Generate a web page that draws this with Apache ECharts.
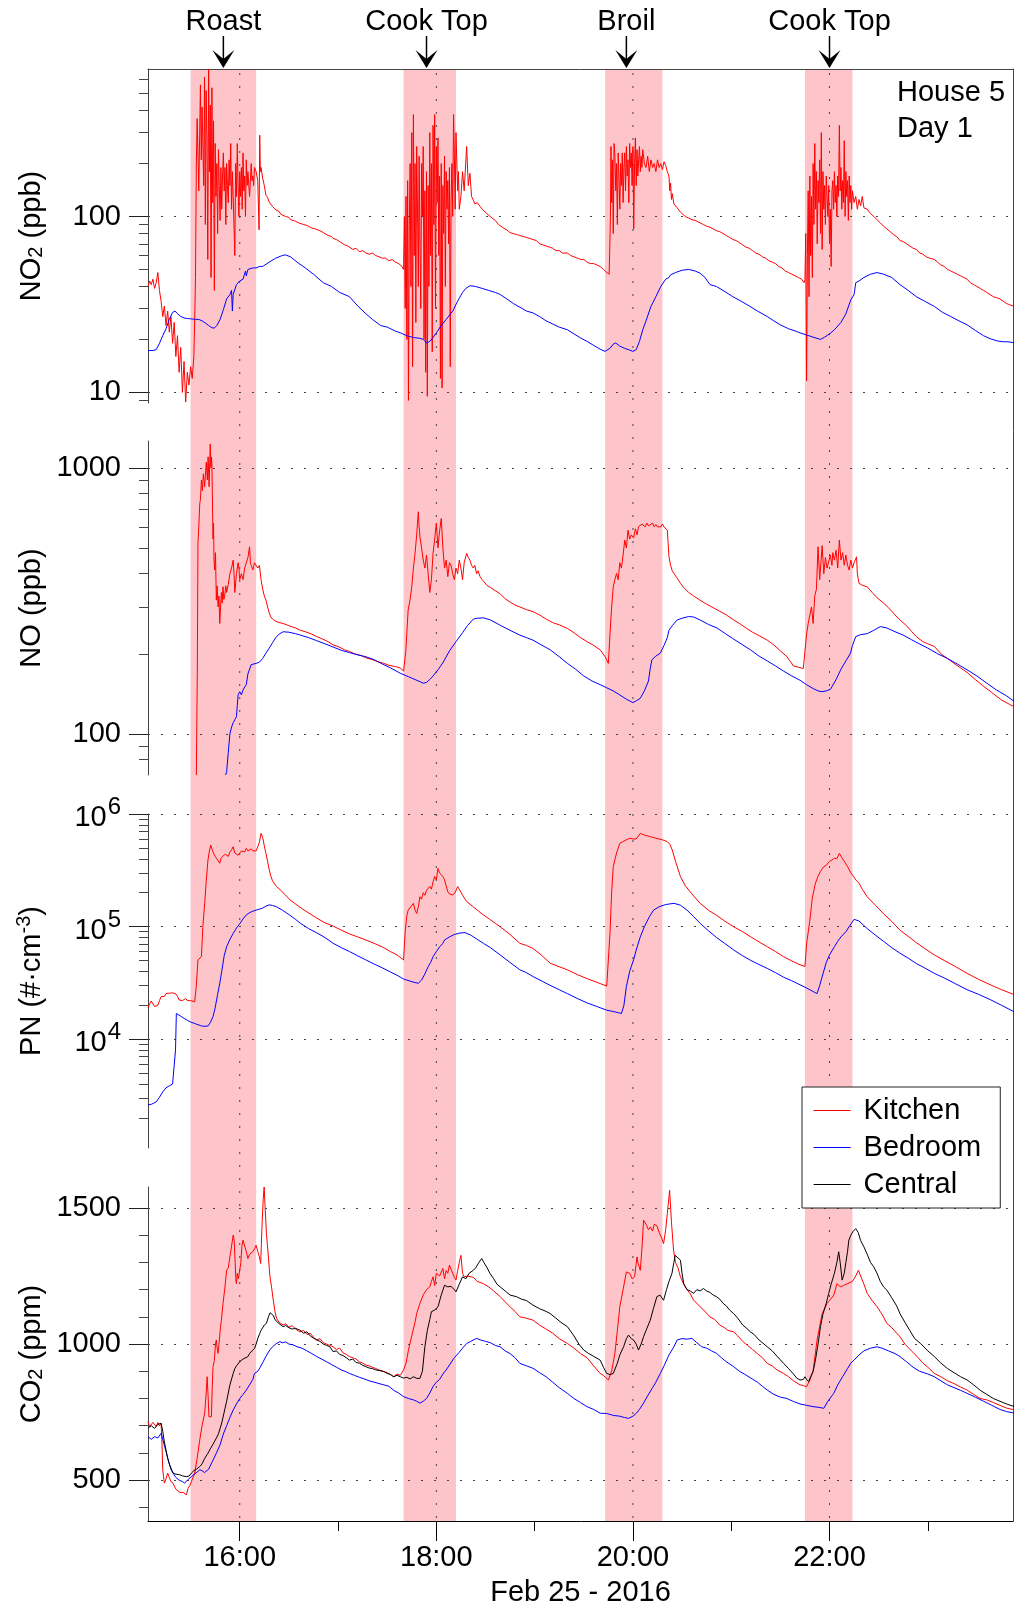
<!DOCTYPE html>
<html><head><meta charset="utf-8">
<script src="https://cdn.jsdelivr.net/npm/echarts@6/dist/echarts.min.js"></script>
<style>html,body{margin:0;padding:0;background:#fff}#c{width:1014px;height:1610px}</style>
</head><body><div id="c"></div>
<script>
// x values: minutes after 15:00 on Feb 25 2016
const timeRange = [4, 532];
const hourTicks = [60, 180, 300, 420];      // 16:00 18:00 20:00 22:00
const oddHourTicks = [120, 240, 360, 480];  // 17:00 19:00 21:00 23:00
const cookingBands = [[30, 70], [160, 192], [283, 318], [405, 434]];
const eventTimes = [50, 174, 296, 420];
const eventLabels = ['Roast', 'Cook Top', 'Broil', 'Cook Top'];
const seriesNames = ['Kitchen', 'Bedroom', 'Central'];

const no2Kitchen = [[4,40],[5,43],[6,41],[7,44],[8,39],[9,42],[10,48],[11,38],[12,33],[13,27],[14,31],[15,24],[16,29],[17,22],[18,27],[19,19],[20,25],[21,16],[22,21],[23,13],[24,18],[25,10],[26,15],[27,8.8],[28,13],[29,11],[30,14],[31,12],[32,16],[32.5,26],[33,45],[33.5,200],[34,360],[35,140],[36,560],[36.5,210],[37,420],[38,150],[38.5,620],[39,90],[39.5,520],[40,280],[40.5,57],[41,690],[41.5,180],[42,430],[42.5,45],[43,540],[43.5,120],[44,350],[44.5,38],[45,260],[45.5,130],[46,200],[46.5,80],[47,240],[47.5,150],[48,95],[48.5,190],[49,110],[49.5,170],[50,230],[50.5,140],[51,190],[51.5,90],[52,200],[52.5,150],[53,120],[53.5,210],[54,150],[54.5,260],[55,110],[55.5,180],[56,130],[57,60],[57.5,200],[58,130],[58.5,260],[59,150],[59.5,100],[60,180],[60.5,130],[61,190],[61.5,110],[62,230],[62.5,140],[63,170],[63.5,100],[64,210],[64.5,150],[65,180],[66,130],[67,200],[67.5,160],[68,170],[68.5,150],[69,190],[70,180],[71,160],[71.8,84],[72.2,290],[72.6,180],[73,190],[74,165],[75,150],[76,132],[77,128],[78,121],[79,118],[80,114],[81,116],[82,109],[84,107],[85,103],[86,105],[88,100],[90,99],[91,96],[92,97],[94,94],[96,92],[97,93],[99,90],[101,89],[102,91],[104,86],[106,85],[107,86],[109,83],[111,81],[112,83],[114,78],[116,77],[117,75],[119,74],[121,72],[122,73],[124,69],[126,68],[127,67],[129,65],[131,66],[133,63],[135,64],[137,62],[139,61],[141,62],[143,60],[145,59],[147,58],[149,58],[151,56],[153,57],[155,55],[157,54],[158,55],[159,52],[160,50],[160.5,100],[161,30],[161.5,130],[162,20],[162.5,160],[163,9],[163.5,90],[164,200],[164.5,40],[165,300],[165.5,14],[166,380],[166.5,60],[167,200],[167.5,25],[168,250],[168.5,110],[169,40],[169.5,220],[170,70],[170.5,30],[171,200],[171.5,100],[172,250],[172.5,20],[173,140],[173.5,13],[174,180],[174.5,9.5],[175,150],[175.5,40],[176,300],[176.5,60],[177,200],[177.5,17],[178,330],[178.5,90],[179,380],[179.5,30],[180,250],[180.5,120],[181,280],[181.5,60],[182,170],[182.5,12],[183,200],[183.5,10.6],[184,150],[184.5,80],[185,220],[185.5,40],[186,180],[186.5,110],[187,160],[187.5,70],[188,190],[188.5,14],[189,120],[189.5,200],[190,100],[190.5,380],[191,230],[191.5,110],[192,300],[193,140],[193.5,180],[194,110],[195,130],[196,180],[197,140],[198.5,250],[199.5,150],[200.5,176],[201.5,130],[202.6,124],[203.5,118],[205,120],[206.7,114],[208,110],[209,112],[210.8,104],[212,102],[214,98],[216,95],[218,90],[219,88],[221,86],[223,84],[225,81],[227,80],[229,79],[231,78],[233,77],[235,76],[237,75],[239,74],[241,73],[243,70],[245,69],[247,68],[249,67],[251,66],[253,64],[255,64],[257,62],[260,62],[262,60],[264,59],[266,58],[268,57],[270,57],[272,55],[274,54],[276,54],[278,53],[280,52],[282,50],[284,48],[285.5,47],[286,47],[286.3,100],[286.6,250],[287,120],[287.5,210],[288,80],[288.5,260],[289,220],[289.5,140],[290,200],[290.5,90],[291,230],[291.5,170],[292,110],[292.5,200],[293,150],[293.5,230],[294,120],[294.5,190],[295,230],[295.5,140],[296,250],[296.5,170],[297,210],[297.5,120],[298,260],[298.5,190],[299,230],[299.5,150],[300,250],[300.5,85],[301,200],[301.5,280],[302,150],[302.5,240],[303,170],[303.5,210],[304,250],[304.5,180],[305,220],[305.5,190],[306,240],[307,200],[308,190],[309,220],[310,180],[311,210],[312,190],[313,200],[314,180],[315,210],[316,190],[317,200],[318,185],[319,205],[320,195],[321,180],[322,170],[322.5,140],[323,155],[323.5,125],[324,135],[325,118],[326,115],[327,112],[328,110],[329,106],[330,104],[332,100],[334,98],[336,96],[338,95],[341,92],[343,90],[345,88],[347,87],[349,85],[351,83],[353,82],[355,80],[357,78],[359,76],[361,74],[363,73],[365,71],[367,69],[369,67],[371,66],[373,64],[375,62],[377,61],[379,59],[381,58],[383,56],[385,55],[387,54],[389,52],[391,51],[393,49],[395,48],[397,47],[399,46],[401,45],[403,44],[404.5,42],[405,44],[405.5,80],[406,11.6],[406.5,60],[407,140],[407.5,35],[408,170],[408.5,60],[409,130],[409.5,45],[410,200],[410.5,90],[411,260],[411.5,110],[412,180],[412.5,70],[413,160],[413.5,120],[414,210],[414.5,80],[415,300],[415.5,65],[416,180],[416.5,110],[417,150],[417.5,90],[418,170],[418.5,130],[419,100],[419.5,150],[420,70],[420.5,110],[421,52],[421.5,140],[422,160],[422.5,110],[423,180],[423.5,120],[424,150],[424.5,100],[425,170],[425.5,130],[426,330],[426.5,140],[427,190],[427.5,110],[428,160],[428.5,120],[429,270],[429.5,100],[430,180],[430.5,130],[431,160],[431.5,95],[432,170],[432.5,120],[433,150],[433.5,110],[434,140],[435,120],[436,130],[437,110],[438,125],[439,115],[440,130],[441,112],[443,110],[445,104],[447,100],[449,96],[451,92],[453,88],[455,85],[457,82],[459,79],[461,77],[463,73],[465,72],[467,70],[469,68],[471,66],[473,65],[475,62],[477,61],[479,59],[481,58],[484,57],[486,55],[488,53],[490,52],[492,50],[494,49],[496,48],[498,47],[500,46],[502,45],[504,44],[506,42],[508,41],[510,40],[512,39],[514,38],[516,37],[518,36],[520,35],[522,34.5],[524,34],[526,33],[528,32],[530,31.5],[532,31]];

const no2Bedroom = [[4,17.3],[7,17.3],[9,17.5],[11,19],[13,21],[15,23],[17,26],[19,28.5],[20.5,29],[22,28],[24,27],[26,26.5],[28,26.3],[30,26.2],[33,26],[35,26],[37,25.5],[39,24.8],[41,24],[43,23.3],[44.5,23.2],[46,24],[48,26],[50,29.5],[52,34],[54,36],[55,38],[55.5,29],[56,36],[58,41],[60,43],[62,44],[63,45],[63.5,49],[64,46],[65,50],[66,51],[68,51],[70,51],[72,52],[74,52],[78,55],[82,58],[86,60],[88,60.5],[91,59],[95,55],[100,51],[105,47],[111,42],[116,40],[121,37],[127,35],[132,31],[137,28],[141,26],[146,24],[150,23.5],[155,22.3],[158,21.8],[162,21],[166,20.5],[170,20.3],[172,20],[174,19.1],[176,19.5],[178,20.5],[180,21.8],[183,24],[186,26],[190,29],[193,33],[196,37],[198,39],[200.5,40.4],[204,40],[208,39],[212,38],[216,37],[219,36],[223,34],[227,32],[231,30.5],[235,29],[239,28.3],[243,27],[247,25.5],[251,24.5],[255,23.5],[260,22.7],[264,21.5],[268,20.4],[272,19.5],[276,18.5],[280,17.6],[283,17.1],[286,17.8],[288,18.8],[289.5,19.1],[292,18.3],[295,17.8],[298,17.4],[300,17.1],[302,17.5],[304,19.5],[306,22.7],[308,25.5],[311,30.8],[314,35],[317,40],[320,44],[322,45],[323,46.6],[326,48],[330,49.5],[334,50],[338,49],[341,47.6],[344,45],[347,41],[351,40],[355,38],[361,35],[366,33],[371,31],[376,29],[382,27],[386,25.5],[390,24.2],[395,23],[400,22.2],[402,21.8],[406,21.2],[410,20.6],[414.5,20],[417,20.6],[420,21.5],[423,22.7],[427,25],[430,28],[433,33.6],[435,36],[436,42],[438,43],[441,45],[445,47],[449,48],[453,47],[458,45],[463,41],[468,38],[473,35],[478,33],[484,30.8],[489,28.5],[494,27],[499,25.5],[504,24.2],[509,22.5],[514,21],[518,20.2],[522.5,19.6],[526,19.4],[529,19.4],[533,19.1]];

const noKitchen = [[33.5,70],[33.8,110],[34.1,170],[34.5,520],[35,600],[35.6,735],[36,760],[36.6,900],[37.2,820],[37.8,950],[38.6,850],[39.2,980],[39.6,1050],[40.2,900],[40.7,1100],[41.3,850],[41.7,1050],[42,1230],[42.4,1000],[42.7,1100],[43,1040],[43.4,700],[43.7,540],[44,620],[44.3,450],[44.7,413],[45.2,480],[45.7,318],[46.2,360],[46.8,300],[47.3,330],[47.8,260],[48.3,300],[48.8,340],[49.3,310],[49.8,357],[50.3,320],[50.8,330],[51.5,360],[52,340],[53,365],[54,400],[55,420],[56,450],[56.5,400],[57,340],[58,400],[59,440],[59.5,420],[60,380],[61,400],[62,380],[63,420],[64,420],[65,460],[66,505],[66.5,440],[67,430],[68,413],[69,440],[70,440],[71,420],[72,430],[73,380],[74,350],[75,330],[76,318],[77,300],[78,285],[79,275],[80,270],[82,265],[84,262],[86.5,260],[90,255],[94,250],[97,245],[100,242],[104,237],[107,232],[110,228],[114,222],[117,216],[120,213],[124,207],[127,204],[130,200],[134,197],[137,193],[141,190],[144,187],[148,184],[151,181],[155,179],[158,177],[160,172],[161.4,206],[162,240],[162.8,292],[164,320],[165,357],[166,420],[167,477],[168,560],[169,684],[169.5,600],[170,551],[171,500],[172,450],[173,420],[174,470],[175,400],[176,340],[177,380],[178,477],[179,540],[180,620],[181,500],[182,580],[183,645],[184,500],[185,420],[186,450],[187,390],[188,440],[189,430],[190,400],[191,380],[192,420],[193,400],[194,450],[195,420],[196,380],[197,440],[198.5,477],[199.5,460],[200.5,450],[201.5,430],[202.6,420],[203.5,430],[204.6,400],[205.5,410],[206.7,390],[208,380],[209,385],[210.8,362],[213,355],[216,345],[219,336],[222,322],[225,313],[228,305],[231,300],[235,293],[239,288],[243,280],[247,270],[251,262],[255,257],[260,249],[264,240],[268,230],[272,222],[276,215],[280,207],[283,195],[285,184],[286,237],[287,300],[288,357],[289,380],[290,401],[291,380],[292,440],[293,420],[294,470],[295,535],[296,500],[297,583],[298,540],[299,560],[300.4,545],[301.5,590],[302.5,560],[303.4,600],[304.5,590],[305.5,615],[306.5,610],[307.5,600],[308.5,620],[309.5,605],[310.6,610],[312,620],[313,600],[314,612],[315,600],[316,605],[317,600],[318,615],[319,600],[320,595],[321,583],[321.5,520],[322,463],[323,430],[324,410],[325,401],[327,385],[329,368],[331,355],[334,340],[337,330],[341,318],[345,307],[349,298],[353,289],[357,280],[361.5,268],[365,260],[369,250],[373,241],[377,234],[382,225],[386,216],[390,205],[394,195],[398,180],[401,178],[404,176],[405,174],[406,237],[407,260],[408,280],[409,300],[410,260],[411,330],[412,350],[413,505],[414,380],[415.5,510],[416.5,400],[417.5,460],[418.5,420],[419.5,420],[420.5,470],[421.5,430],[422,480],[423,450],[424,490],[425,420],[426,535],[427,450],[428,480],[429,430],[430,470],[431,430],[432,413],[433,450],[434,420],[435,440],[436.5,463],[437,400],[438,368],[440,362],[443,357],[446,340],[449,325],[453,310],[456,298],[460,280],[463,268],[467,255],[470,243],[473,232],[477,222],[480,218],[484,213],[488,200],[492,192],[496,184],[500,177],[504,170],[509,160],[514,151],[519,143],[525,134],[529,130],[533,126]];

const noBedroom = [[51.4,70],[52,72],[52.3,73],[53,85],[54,100],[55,106],[56,110],[57,113],[58,116],[58.5,128],[59,140],[60,144],[61,140],[62,146],[63,150],[64,153],[65,168],[66,175],[67,182],[68,183],[70,184],[72,186],[74,192],[76,201],[78,210],[80,220],[82,230],[84,237],[86.5,242],[90,241],[94,238],[97,235],[102,230],[107,224],[112,218],[117,212],[122,206],[127,202],[132,198],[137,195],[142,190],[147,183],[152,177],[158,169],[163,164],[167,160],[170,157],[172,155],[174,156],[176,160],[178,165],[181,174],[184,185],[188,205],[192,222],[196,240],[199,255],[202.6,270],[205,272],[208.7,273],[213,268],[219,256],[225,245],[231,235],[235,230],[239,225],[244,216],[249.5,207],[255,195],[260,184],[265,175],[270,165],[275,158],[280,153],[284,149],[288,145],[292,140],[296,135],[300,131],[302,133],[304.5,136],[307,145],[309.5,158],[310.5,175],[311.6,190],[314,196],[316.7,201],[319,215],[321,230],[322,245],[324,255],[327,268],[330,272],[334,276],[337,275],[341,268],[346,258],[351.3,250],[356,239],[361,228],[366,218],[371.7,207],[377,196],[382,188],[387,180],[392,172],[397,165],[402,159],[406,153],[410,148],[413,145],[415.5,144],[418,145],[420.6,147],[424,160],[427,175],[430,188],[432.8,201],[434,215],[436,232],[439,236],[443,238],[447,245],[451,253],[455,250],[460,242],[465,235],[470,226],[473.5,220],[480,210],[486,200],[492,192],[498,183],[504,174],[510,165],[516,155],[522,146],[528,139],[533,132]];

const pnKitchen = [[4,19000],[5,20500],[6,21800],[7,21500],[8,19500],[9,19500],[10,20000],[11,22000],[12,23800],[13,24500],[14,24000],[15,25400],[16,25000],[17,25600],[18,25000],[19,25800],[20,25400],[21,25200],[22,24000],[23,22300],[24,22800],[25,22000],[26,22500],[27,23000],[28,22000],[29,22500],[30,22000],[31,21800],[32.5,21500],[33.5,30000],[34.5,50600],[35.5,51000],[36.6,54000],[37.5,100000],[38.6,161000],[39.5,250000],[40.6,390000],[41.5,470000],[42.3,530000],[43,490000],[44,450000],[45,420000],[45.7,405000],[46.5,390000],[47.8,365000],[48.5,400000],[49.5,420000],[50.5,410000],[51.2,440000],[52,432000],[53,420000],[54,460000],[55,480000],[56,512000],[57,450000],[58,440000],[59,430000],[60,450000],[61,470000],[62,480000],[63,460000],[64,496000],[65,470000],[66,480000],[67,490000],[68,470000],[69,463000],[70,470000],[71,480000],[72,560000],[73,673000],[74,620000],[75,520000],[76,446000],[77,380000],[78,320000],[79,280000],[80,255000],[82.4,227000],[85,210000],[88,190000],[90.6,173000],[95,155000],[100,138000],[107,119000],[112,108000],[117,101000],[122,93000],[127,86000],[132,81000],[137,76000],[142,71000],[147,66000],[152,60000],[156,56000],[160,50600],[161,90000],[162,125000],[162.8,140000],[164,145000],[166,161000],[167,140000],[168,131000],[169,150000],[170,184000],[171,175000],[172,200000],[173,190000],[174,210000],[175,205000],[176,227000],[177,215000],[178,250000],[179,278000],[180,260000],[181,329000],[182,300000],[183,310000],[184,278000],[185,260000],[186,230000],[187,204000],[188,195000],[190,191000],[191.5,200000],[193,227000],[194,215000],[196,190000],[198.5,167000],[202,152000],[205,140000],[208.7,127000],[213,115000],[219,99700],[225,85000],[231,71000],[235,68000],[239,64000],[244,56000],[249.5,47300],[255,44000],[260,41300],[266,37500],[272,34500],[278,32000],[284,29600],[286,87000],[287,200000],[288,341000],[290,450000],[292,549000],[294,570000],[296,590000],[298,608000],[300,600000],[301,620000],[302,600000],[304.5,673000],[307,650000],[310.6,629000],[314,610000],[318,590000],[321,568000],[322.5,540000],[324,479000],[326,380000],[329,278000],[332,230000],[336,195000],[341,161000],[346,140000],[351,126000],[356,112000],[361.5,99700],[367,90000],[372,81000],[377,73000],[382,66300],[387,60000],[392,54000],[397,49500],[402,45800],[405,44200],[406,70000],[408,114000],[409.5,180000],[411.4,243000],[413,280000],[414.5,310000],[416.5,341000],[418,350000],[420,380000],[421.5,390000],[423,405000],[424.5,400000],[426,446000],[427.5,410000],[429,380000],[431,341000],[433,300000],[435,275000],[436,260000],[438,243000],[440,215000],[443,184000],[448,155000],[453,130000],[458,111000],[463,93000],[468,82000],[473,72000],[478,64000],[484,56000],[490,50000],[497,44000],[504,38400],[511,34000],[518,30500],[525,27500],[533,24800]];

const pnBedroom = [[4,2610],[6,2640],[9,2770],[11,3050],[13,3400],[15,3700],[17,3850],[19,4000],[20,4070],[20.8,8000],[21.3,16900],[22.3,17400],[24,16000],[26,15300],[28,14700],[30,14200],[33,13700],[36,13200],[38,13000],[40.6,13100],[42,14000],[43.7,15900],[45,19000],[46.5,25000],[47.8,31400],[49,40000],[50.5,55000],[52,66300],[54,77000],[56,87000],[58,97000],[60,106000],[62,117000],[64,127000],[66,133000],[68,137000],[70,140000],[72,143000],[74,146000],[76,152000],[78,156000],[80,154000],[82.4,150000],[86,140000],[90,128000],[94,116000],[97,107000],[102,96000],[107,88000],[112,80000],[117,71000],[122,65000],[127,60000],[132,55000],[137,50600],[142,46500],[147,43000],[152,39500],[156,37000],[160,34200],[164,32800],[167,31800],[169,31400],[171,33500],[173,38000],[175,44000],[176.5,48000],[178,54000],[180,60000],[182,66000],[184,71000],[185,76000],[186,78000],[188,81000],[191,85000],[194,87500],[197.5,88400],[201,84000],[205,77000],[208.7,71000],[213,65000],[219,56000],[225,48000],[231,41300],[235,39000],[239,36000],[245,32500],[250,29800],[255,27500],[260,25400],[266,23000],[272,21000],[278,19500],[284,18100],[288,17600],[291,17200],[293,16900],[294.5,20000],[296,29300],[298,40000],[300.4,50600],[302,62000],[304.5,81000],[307,100000],[310,122000],[312.6,140000],[316,150000],[320,157000],[325,161000],[329,155000],[333,140000],[337,123000],[341,107000],[346,92000],[351,80000],[356,71000],[361.5,62000],[367,55000],[372,50000],[377,46000],[382,42500],[387,39000],[392,35500],[397,33000],[402,30400],[406,28500],[410,26500],[412.4,25400],[414,30000],[416,38000],[418,48000],[420,56000],[423,66300],[425,74000],[427,81000],[430,90000],[432,100000],[435,116000],[438,112000],[443,96000],[448,84000],[453,74000],[458,65000],[463,58000],[468,52500],[473,47000],[478,43000],[484,38400],[490,35000],[497,31000],[504,27500],[511,25000],[518,22500],[525,20000],[533,17400]];

const co2Kitchen = [[4,715],[5,697],[6,697],[7,712],[8,709],[9,697],[10,712],[11,700],[12,709],[12.5,640],[13,538],[14,489],[15,505],[16,526],[17,510],[18,495],[19.3,489],[20.3,475],[21.3,465],[22.5,470],[23.5,455],[24.4,460],[25.5,455],[26.5,450],[27.4,446],[28.5,470],[29.5,480],[30.5,495],[31.5,510],[32.5,526],[34,580],[35.6,648],[37,700],[38.6,746],[39.5,820],[40.1,880],[40.6,820],[41.2,733],[42,740],[42.7,733],[43.2,840],[43.7,917],[44.5,940],[45.2,1000],[45.7,1015],[46.3,980],[46.8,966],[47.5,1010],[48.2,1060],[48.8,1088],[49.8,1150],[50.8,1200],[52,1271],[53,1280],[54,1320],[55,1360],[56,1400],[56.6,1380],[57.2,1300],[57.7,1230],[58,1222],[58.5,1260],[59.2,1240],[60,1271],[60.7,1300],[61.3,1360],[62,1382],[63,1360],[64,1340],[65,1314],[66,1330],[67,1335],[68,1339],[69,1350],[70,1363],[71,1340],[72,1320],[72.8,1296],[73.5,1420],[74.3,1530],[74.9,1577],[75.5,1500],[76.3,1406],[77.5,1320],[78.4,1250],[79.4,1210],[80.5,1160],[81.5,1120],[82.4,1095],[84,1080],[86.5,1070],[88,1075],[90,1062],[92,1068],[94,1055],[96.7,1045],[99,1050],[101,1035],[103,1040],[105,1025],[107,1015],[109,1020],[111,1005],[113,1000],[115,995],[117,990],[119,980],[121,985],[123,968],[125,962],[127,954],[129,950],[131,945],[133,935],[135,930],[137,923],[139,920],[141,915],[143,910],[145,905],[148,899],[150,895],[152,888],[154,880],[156,890],[158,885],[160,905],[161.5,930],[163,978],[165,1030],[167,1080],[168,1112],[170,1150],[172,1180],[174,1200],[176,1210],[177,1230],[178,1247],[179,1215],[180,1260],[182,1250],[184,1278],[185,1240],[186,1270],[187,1260],[188,1290],[189,1284],[190,1260],[191,1245],[192,1235],[193,1270],[194,1300],[195,1326],[196,1260],[197,1247],[199,1250],[202.6,1245],[205,1230],[208.7,1222],[212,1210],[215,1195],[219,1174],[222,1155],[225,1137],[228,1120],[231,1100],[235,1095],[239,1088],[243,1070],[247,1055],[251,1040],[255,1020],[260,1002],[264,985],[268,965],[272,950],[276,920],[280,892],[282,885],[285,868],[287,900],[289,966],[290.5,1050],[292,1137],[294,1200],[296,1265],[298,1260],[299.5,1240],[301,1247],[302.5,1320],[303,1300],[304.5,1271],[305.5,1350],[306.5,1455],[308,1440],[309.5,1420],[310.6,1430],[312,1415],[313,1440],[314.6,1435],[316,1410],[317.5,1390],[318.7,1369],[320,1420],[321,1480],[322.4,1565],[323.5,1450],[324.8,1345],[326,1300],[327.5,1280],[329,1247],[331,1220],[333,1200],[335,1185],[337,1161],[339,1150],[341,1137],[344,1120],[347,1100],[350,1090],[353,1070],[356,1060],[358,1050],[361.5,1045],[364,1030],[367,1010],[370,995],[373,980],[376,965],[379,950],[382,929],[385,920],[388,905],[392,892],[395,880],[398,865],[402,850],[404,848],[406,843],[408,868],[410,900],[412.4,1015],[415.5,1112],[418.5,1149],[420,1160],[422.6,1180],[424.6,1222],[426.6,1210],[428.5,1215],[431,1222],[434,1230],[436,1250],[437.6,1271],[439,1250],[441,1220],[443,1186],[446,1160],[449,1137],[452,1110],[455,1076],[458,1060],[461,1040],[463,1027],[466,1000],[470,975],[473.5,954],[477,930],[480,915],[484,892],[488,880],[492,865],[496,855],[500,842],[504,831],[508,815],[512,800],[516,795],[520,785],[524,775],[528,765],[533,758]];

const co2Central = [[4,691],[6,700],[8,690],[10,705],[12,709],[13,680],[14,640],[15,611],[16,580],[17,560],[18,540],[19.3,526],[21,522],[23.3,520],[25,516],[27.4,513],[29,515],[30.5,526],[32,535],[33.5,540],[35.6,550],[37,560],[38.6,580],[40.6,599],[42,615],[43.5,630],[45.7,654],[47,670],[49,710],[50.8,758],[52,790],[54,850],[56,892],[57,910],[58,920],[60,935],[62,945],[63,950],[65,954],[66,965],[67.5,975],[69,984],[70,1000],[71,1020],[72.2,1039],[73,1050],[74,1045],[75,1070],[76.3,1076],[77.5,1100],[78.5,1115],[79.4,1119],[80.5,1105],[81.5,1090],[82.4,1088],[84,1075],[85,1080],[86.5,1064],[88,1068],[90,1060],[92,1055],[94,1058],[96.7,1051],[99,1040],[101,1045],[103,1030],[105,1022],[107,1015],[109,1010],[111,1000],[113,995],[115,990],[117,972],[119,975],[121,962],[123,958],[125,950],[127,941],[129,945],[131,932],[133,930],[135,922],[137,917],[139,912],[141,910],[143,905],[145,903],[148,899],[150,892],[152,888],[154,880],[156,885],[158,880],[160,875],[162,878],[164,872],[166,880],[168,874],[170,874],[171.5,900],[173,990],[174.5,1050],[176,1090],[177,1119],[179,1125],[181,1137],[183,1180],[185,1216],[187,1210],[189,1212],[191,1200],[192,1192],[194,1220],[196,1247],[198,1240],[200,1260],[202.6,1271],[204,1280],[206,1300],[207.7,1314],[209,1300],[211,1280],[212.8,1259],[215,1240],[217,1220],[219,1210],[222,1195],[225,1180],[229,1174],[232,1165],[235,1160],[239,1143],[243,1130],[247,1120],[249.5,1112],[253,1095],[256,1080],[260,1064],[264,1030],[267,1000],[270,978],[273,965],[276,955],[280,941],[282,915],[284,892],[286,888],[288,892],[289,890],[290.5,930],[292,960],[294.3,990],[296,1020],[297.3,1033],[299,1020],[300.4,1015],[302,1000],[303.4,978],[305,1000],[306.5,1027],[308,1050],[310.6,1088],[312.5,1130],[314.6,1174],[316.5,1180],[318.7,1161],[320.5,1200],[322,1230],[323.8,1259],[325,1300],[325.8,1326],[327,1320],[329,1308],[330,1260],[331,1222],[333,1200],[335,1195],[337,1186],[339,1200],[341,1195],[343,1204],[345,1195],[347,1190],[349,1180],[351,1174],[353,1165],[355,1150],[357,1140],[359,1125],[361.5,1112],[364,1095],[367,1070],[369,1060],[371.7,1045],[374,1035],[377,1015],[380,1000],[382,990],[385,975],[388,955],[392,929],[395,910],[398,890],[400,875],[402,868],[404,870],[405,880],[406,870],[407.3,862],[408.5,880],[410,900],[411.4,941],[413,1000],[414.5,1064],[416,1110],[418,1150],[419.5,1186],[421,1220],[423,1260],[424.5,1300],[425.6,1339],[426.5,1300],[427.7,1235],[429,1260],[430,1300],[431,1340],[431.8,1382],[433,1400],[434.5,1415],[436,1424],[437.5,1410],[439,1380],[441,1357],[443,1330],[445,1300],[447,1284],[449,1260],[451,1230],[453,1210],[455,1198],[458,1170],[461,1140],[463,1112],[466,1080],[469,1050],[472,1020],[475.6,1002],[480,975],[484,954],[488,930],[492,910],[496,895],[500,880],[504,868],[508,850],[512,830],[516,815],[520,800],[524,790],[528,780],[533,770]];

const co2Bedroom = [[4,660],[6,650],[8,660],[10,655],[12,672],[13,650],[15,605],[17,560],[19.3,526],[21,510],[23,500],[25,495],[26.4,489],[28,500],[30.5,513],[32,520],[34,530],[35.6,538],[37,535],[38.5,528],[39.6,526],[41,540],[43,565],[45.7,599],[48,630],[50,670],[52,700],[54,730],[56,758],[58,780],[60,800],[62,815],[64,831],[66,850],[68,870],[69,892],[71,900],[72.5,915],[74.3,935],[76,955],[78.3,978],[80,990],[82,1000],[84.5,1009],[86,1005],[88,1008],[90,1000],[92.6,997],[95,990],[98,985],[101,975],[104,965],[107,954],[110,945],[113,935],[116,925],[119,915],[122,905],[125,898],[127,892],[130,885],[133,878],[136,872],[139,865],[142,860],[145,855],[148,850],[151,845],[154,830],[157,820],[160,807],[163,800],[166,795],[168,790],[170,783],[172,790],[174,800],[176,820],[178,844],[180,860],[182,870],[184,890],[186,905],[188,923],[191,950],[194,970],[196,985],[198.5,1002],[201,1010],[204.6,1021],[207,1015],[210,1010],[213,1005],[216,995],[219,990],[222,975],[225,965],[228,950],[231,929],[235,920],[239,911],[243,895],[247,880],[251,860],[255,840],[260,819],[264,800],[268,785],[272,770],[276,760],[280,746],[284,745],[288,738],[292,735],[295,730],[297.3,727],[300,735],[302,745],[304,760],[306.5,783],[309,810],[312,840],[314,860],[316.7,892],[319,920],[322,960],[325,990],[327,1015],[330,1020],[333,1018],[336,1021],[339,1005],[342,990],[345,985],[348,975],[351,966],[354,950],[357,935],[361.5,917],[365,900],[368,890],[372,875],[376,860],[379,845],[382,831],[386,815],[390,805],[394,800],[398,789],[402,780],[406,775],[410,770],[413,768],[416.5,764],[419,790],[422.6,819],[425,850],[428,880],[431,910],[433,930],[435,941],[438,960],[441,975],[445,985],[449,990],[452,985],[456,975],[460,965],[463,954],[467,935],[471,915],[475,900],[480,890],[484,880],[488,865],[492,850],[496,840],[500,830],[504,819],[509,805],[514,790],[519,775],[524,760],[528,752],[533,746]];

// axis ticks
const no2Major = [10, 100];
const no2Minor = [9, 20, 30, 40, 50, 60, 70, 80, 90, 200, 300, 400, 500, 600];
const noMajor = [100, 1000];
const noMinor = [80, 90, 200, 300, 400, 500, 600, 700, 800, 900];
const pnMajor = [1e4, 1e5, 1e6];
const pnMinor = [2000, 3000, 4000, 5000, 6000, 7000, 8000, 9000, 20000, 30000, 40000, 50000, 60000, 70000, 80000, 90000, 200000, 300000, 400000, 500000, 600000, 700000, 800000, 900000];
const co2Major = [500, 1000, 1500];
const co2Minor = [400, 600, 700, 800, 900, 1100, 1200, 1300, 1400];

const FONT = '"Liberation Sans", Arial, Helvetica, sans-serif';
const FS = 29;
const AX = '#444';
const COLORS = { Kitchen: '#ff0000', Bedroom: '#0000ff', Central: '#000000' };

const panelTops = [69, 441, 814, 1187];
const panelH = 334;
const gridLeft = 148, gridW = 865;

const grids = panelTops.map(t => ({ left: gridLeft, top: t, width: gridW, height: panelH, containLabel: false, outerBoundsMode: 'none' }));
grids.push({ left: gridLeft, top: panelTops[0], width: gridW, height: panelTops[3] + panelH - panelTops[0], containLabel: false, outerBoundsMode: 'none' });

const xAxes = [0, 1, 2].map(i => ({ type: 'value', gridIndex: i, min: timeRange[0], max: timeRange[1], show: false }));
xAxes.push({
  type: 'value', gridIndex: 3, position: 'bottom', min: timeRange[0], max: timeRange[1], z: 2,
  axisLine: { show: true, onZero: false, lineStyle: { color: '#000', width: 1 } },
  axisTick: { show: true, length: 20, customValues: hourTicks, lineStyle: { color: '#000' } },
  axisLabel: { show: true, customValues: hourTicks, margin: 22, fontSize: FS, color: '#000', fontFamily: FONT,
    formatter: v => (15 + Math.round(v / 60)) + ':00' },
  splitLine: { show: false },
  name: 'Feb 25 - 2016', nameLocation: 'middle', nameGap: 57, nameMoveOverlap: false,
  nameTextStyle: { fontSize: FS, color: '#000', fontFamily: FONT }
});
xAxes.push({
  type: 'value', gridIndex: 3, position: 'bottom', offset: 0, min: timeRange[0], max: timeRange[1], z: 2,
  axisLine: { show: false, onZero: false },
  axisTick: { show: true, length: 10, customValues: oddHourTicks, lineStyle: { color: '#000' } },
  axisLabel: { show: false }, splitLine: { show: false }
});
xAxes.push({
  type: 'value', gridIndex: 4, position: 'top', min: timeRange[0], max: timeRange[1], z: 2,
  axisLine: { show: true, onZero: false, lineStyle: { color: AX, width: 1 } },
  axisTick: { show: false }, axisLabel: { show: false }, splitLine: { show: false }
});

const baseText = { fontSize: FS, color: '#000', fontFamily: FONT };
function panelAxes(gi, type, min, max, major, minor, nameRich, name, labelFmt, labelRich) {
  const main = {
    type: type, gridIndex: gi, position: 'left', min: min, max: max, z: 2,
    axisLine: { show: true, onZero: false, lineStyle: { color: AX, width: 1 } },
    axisTick: { show: true, length: 19, customValues: major, lineStyle: { color: '#222' } },
    axisLabel: Object.assign({ show: true, customValues: major, margin: 27 }, baseText,
      { formatter: labelFmt || (v => String(v)) }, labelRich ? { rich: labelRich } : {}),
    splitLine: { show: true, lineStyle: { color: AX, width: 1, type: [2, 11] } },
    name: name, nameLocation: 'middle', nameGap: 102, nameRotate: 90, nameMoveOverlap: false,
    nameTextStyle: Object.assign({}, baseText, { rich: nameRich })
  };
  if (type === 'log') main.logBase = 10;
  const sub = {
    type: type, gridIndex: gi, position: 'left', offset: 0, min: min, max: max, z: 2,
    axisLine: { show: false, onZero: false },
    axisTick: { show: true, length: 9, customValues: minor, lineStyle: { color: AX } },
    axisLabel: { show: false }, splitLine: { show: false }
  };
  if (type === 'log') sub.logBase = 10;
  return [main, sub];
}
const nameRich = {
  a: { fontSize: FS, fontFamily: FONT, color: '#000', verticalAlign: 'bottom', lineHeight: 32 },
  sub: { fontSize: 20, fontFamily: FONT, color: '#000', verticalAlign: 'bottom', lineHeight: 26 },
  sup: { fontSize: 20, fontFamily: FONT, color: '#000', verticalAlign: 'top', lineHeight: 22 }
};
const expRich = {
  b: { fontSize: FS, fontFamily: FONT, color: '#000', verticalAlign: 'bottom' },
  s: { fontSize: 24, fontFamily: FONT, color: '#000', verticalAlign: 'bottom', padding: [0, 0, 13, 1] }
};

const yAxes = [].concat(
  panelAxes(0, 'log', 8.7, 690, no2Major, no2Minor, nameRich, '{a|NO}{sub|2}{a| (ppb)}'),
  panelAxes(1, 'log', 70, 1262, noMajor, noMinor, nameRich, '{a|NO (ppb)}'),
  panelAxes(2, 'log', 1080, 1e6, pnMajor, pnMinor, nameRich, '{a|PN (#·cm}{sup|-3}{a|)}',
    v => '{b|10}{s|' + Math.round(Math.log10(v)) + '}', expRich),
  panelAxes(3, 'value', 350, 1577, co2Major, co2Minor, nameRich, '{a|CO}{sub|2}{a| (ppm)}')
);
yAxes.push({
  type: 'value', gridIndex: 4, position: 'right', min: 0, max: 1, z: 2,
  axisLine: { show: true, onZero: false, lineStyle: { color: AX, width: 1 } },
  axisTick: { show: false }, axisLabel: { show: false }, splitLine: { show: false }
});

function line(name, data, gi) {
  return {
    type: 'line', name: name, data: data, xAxisIndex: gi, yAxisIndex: gi * 2,
    showSymbol: false, symbol: 'none', z: 3, silent: true,
    lineStyle: { color: COLORS[name], width: 1 }, itemStyle: { color: COLORS[name] }
  };
}

const series = [
  {
    type: 'custom', name: 'bands', xAxisIndex: 5, yAxisIndex: 8, z: 1, silent: true, clip: false,
    data: cookingBands,
    encode: { x: [0, 1] },
    renderItem: function (params, api) {
      const p0 = api.coord([api.value(0), 1]);
      const p1 = api.coord([api.value(1), 0]);
      return { type: 'rect', shape: { x: p0[0], y: p0[1], width: p1[0] - p0[0], height: p1[1] - p0[1] },
        style: { fill: '#fdc5c9' } };
    }
  },
  {
    type: 'custom', name: 'hourLines', xAxisIndex: 5, yAxisIndex: 8, z: 2, silent: true, clip: false,
    data: hourTicks.map(v => [v]),
    encode: { x: 0 },
    renderItem: function (params, api) {
      const p0 = api.coord([api.value(0), 1]);
      const p1 = api.coord([api.value(0), 0]);
      return { type: 'line', shape: { x1: p0[0], y1: p0[1] + 4, x2: p1[0], y2: p1[1] },
        style: { stroke: AX, lineWidth: 1, lineDash: [2, 11] } };
    }
  },
  {
    type: 'custom', name: 'events', xAxisIndex: 5, yAxisIndex: 8, z: 5, silent: true, clip: false,
    data: eventTimes.map(v => [v]),
    encode: { x: 0 },
    renderItem: function (params, api) {
      const p = api.coord([api.value(0), 1]);
      const x = p[0], y = p[1];
      return { type: 'group', children: [
        { type: 'text', x: x, y: y - 47, style: { text: eventLabels[params.dataIndex], fontSize: FS, fontFamily: FONT,
            fill: '#000', align: 'center', verticalAlign: 'middle' } },
        { type: 'line', shape: { x1: x, y1: y - 33, x2: x, y2: y - 6 }, style: { stroke: '#000', lineWidth: 1.5 } },
        { type: 'polygon', shape: { points: [[x - 11, y - 19], [x, y - 1], [x + 11, y - 19], [x, y - 10]] },
          style: { fill: '#000' } }
      ] };
    }
  },
  line('Kitchen', no2Kitchen, 0), line('Bedroom', no2Bedroom, 0),
  line('Kitchen', noKitchen, 1), line('Bedroom', noBedroom, 1),
  line('Kitchen', pnKitchen, 2), line('Bedroom', pnBedroom, 2),
  line('Kitchen', co2Kitchen, 3), line('Bedroom', co2Bedroom, 3), line('Central', co2Central, 3)
];

const chart = echarts.init(document.getElementById('c'), null, { renderer: 'canvas' });
chart.setOption({
  animation: false,
  backgroundColor: '#fff',
  textStyle: { fontFamily: FONT },
  grid: grids,
  xAxis: xAxes,
  yAxis: yAxes,
  legend: {
    data: seriesNames, orient: 'vertical', left: 802, top: 1087, z: 10,
    padding: [8, 19, 8, 11], itemGap: 6, itemWidth: 37, itemHeight: 14,
    backgroundColor: '#fff', borderColor: '#222', borderWidth: 1, borderRadius: 0,
    selectedMode: false,
    itemStyle: { opacity: 0, borderWidth: 0 },
    lineStyle: { width: 1.2 },
    textStyle: { fontSize: FS, color: '#000', fontFamily: FONT, lineHeight: 31, padding: [0, 0, 0, 8] }
  },
  graphic: [
    { type: 'text', left: 897, top: 78, z: 10, style: { text: 'House 5', fontSize: FS, fontFamily: FONT, fill: '#000' } },
    { type: 'text', left: 897, top: 114, z: 10, style: { text: 'Day 1', fontSize: FS, fontFamily: FONT, fill: '#000' } }
  ],
  series: series
});
</script></body></html>
